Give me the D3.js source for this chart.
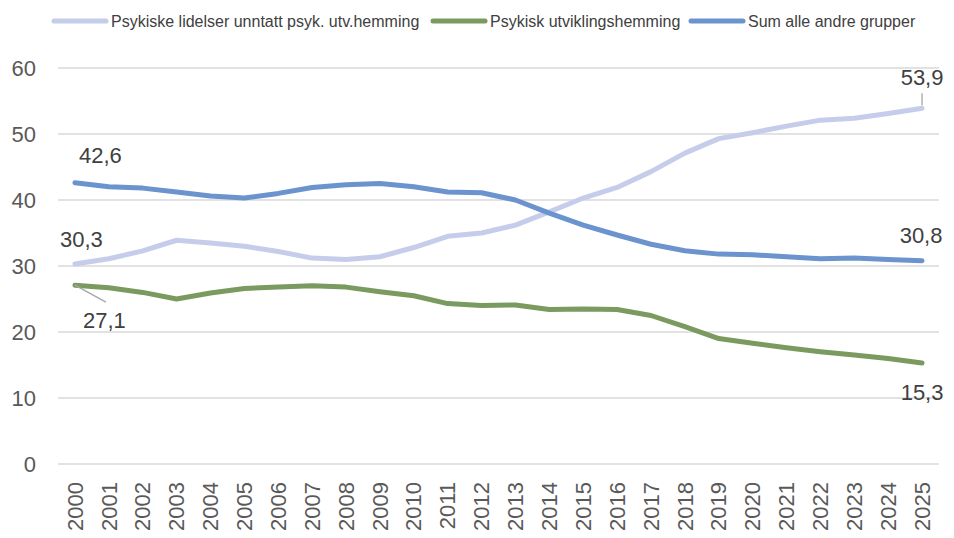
<!DOCTYPE html>
<html lang="no">
<meta charset="utf-8">
<title>Utvikling etter diagnosegruppe</title>
<style>
  body { margin: 0; background: #fff; }
  svg { font-family: "Liberation Sans", Arial, sans-serif; display: block; }
  .grid line { stroke: #d9d9d9; stroke-width: 1.3; }
  .ytick text, .xtick text { fill: #595959; font-size: 22px; }
  .lbl { fill: #404040; font-size: 22px; }
  .legend text { fill: #404040; font-size: 16px; }
</style>
<body>
<script src="https://d3js.org/d3.v7.min.js"></script>
<script>
  // years along the x axis
  var years = ["2000","2001","2002","2003","2004","2005","2006","2007","2008","2009",
    "2010","2011","2012","2013","2014","2015","2016","2017","2018","2019",
    "2020","2021","2022","2023","2024","2025"];

  // series values
  var psykiske = [30.3,31.1,32.3,33.9,33.5,33.0,32.2,31.2,31.0,31.4,
    32.8,34.5,35.0,36.2,38.2,40.3,41.9,44.3,47.1,49.3,
    50.2,51.2,52.1,52.4,53.1,53.9];
  var utvikling = [27.1,26.7,26.0,25.0,25.9,26.6,26.8,27.0,26.8,26.1,
    25.5,24.3,24.0,24.1,23.4,23.5,23.4,22.5,20.8,19.0,
    18.3,17.6,17.0,16.5,16.0,15.3];
  var andre = [42.6,42.0,41.8,41.2,40.6,40.3,41.0,41.9,42.3,42.5,
    42.0,41.2,41.1,40.0,38.0,36.2,34.7,33.3,32.3,31.8,
    31.7,31.4,31.1,31.2,31.0,30.8];

  var yTicks = [0, 10, 20, 30, 40, 50, 60];

  var series = [
    { name: "Psykiske lidelser unntatt psyk. utv.hemming", values: psykiske, color: "#c5cdea" },
    { name: "Psykisk utviklingshemming", values: utvikling, color: "#7a9a5f" },
    { name: "Sum alle andre grupper", values: andre, color: "#6b93cd" }
  ];

  var width = 954, height = 538;
  var margin = { top: 68, right: 15, bottom: 74, left: 58 };

  var svg = d3.select("body").append("svg")
    .attr("width", width)
    .attr("height", height);

  var x = d3.scaleBand().domain(years).range([margin.left, width - margin.right]);
  var y = d3.scaleLinear().domain([0, 60]).range([height - margin.bottom, margin.top]);
  var cx = function(yr) { return x(yr) + x.bandwidth() / 2; };

  // gridlines
  svg.append("g").attr("class", "grid")
    .selectAll("line").data(yTicks).join("line")
    .attr("x1", margin.left).attr("x2", width - margin.right)
    .attr("y1", function(d) { return y(d); }).attr("y2", function(d) { return y(d); });

  // y tick labels
  svg.append("g").attr("class", "ytick")
    .selectAll("text").data(yTicks).join("text")
    .attr("x", 36).attr("y", function(d) { return y(d); })
    .attr("dy", "0.35em").attr("text-anchor", "end")
    .text(function(d) { return d; });

  // x tick labels, rotated
  svg.append("g").attr("class", "xtick")
    .selectAll("text").data(years).join("text")
    .attr("transform", function(d) { return "translate(" + cx(d) + "," + 482 + ") rotate(-90)"; })
    .attr("dy", "0.35em").attr("text-anchor", "end")
    .text(function(d) { return d; });

  // lines
  var line = d3.line()
    .x(function(d, i) { return cx(years[i]); })
    .y(function(d) { return y(d); });

  svg.append("g").selectAll("path").data(series).join("path")
    .attr("fill", "none")
    .attr("stroke", function(d) { return d.color; })
    .attr("stroke-width", 5)
    .attr("stroke-linecap", "round")
    .attr("stroke-linejoin", "round")
    .attr("d", function(d) { return line(d.values); });

  // data labels
  var fmt = function(v) { return d3.format(".1f")(v).replace(".", ","); };
  var first = years[0], last = years[years.length - 1];
  var labels = [
    { yr: first, v: andre[0], dx: 4, dy: -28, anchor: "start" },
    { yr: first, v: psykiske[0], dx: -15, dy: -25, anchor: "start" },
    { yr: first, v: utvikling[0], dx: 8, dy: 35, anchor: "start", lead: [0, 0, 31, 17] },
    { yr: last, v: psykiske[25], dx: 0, dy: -31, anchor: "middle", lead: [0, -3, 0, -15] },
    { yr: last, v: andre[25], dx: -1, dy: -25, anchor: "middle" },
    { yr: last, v: utvikling[25], dx: 0, dy: 29, anchor: "middle" }
  ];

  labels.forEach(function(l) {
    var px = cx(l.yr), py = y(l.v);
    if (l.lead) {
      svg.append("line")
        .attr("x1", px + l.lead[0]).attr("y1", py + l.lead[1])
        .attr("x2", px + l.lead[2]).attr("y2", py + l.lead[3])
        .attr("stroke", "#a6a6a6").attr("stroke-width", 1.3);
    }
    svg.append("text").attr("class", "lbl")
      .attr("x", px + l.dx).attr("y", py + l.dy)
      .attr("dy", "0.35em").attr("text-anchor", l.anchor)
      .text(fmt(l.v));
  });

  // legend
  var legendX = [52, 431, 689];
  var lg = svg.append("g").attr("class", "legend")
    .selectAll("g").data(series).join("g")
    .attr("transform", function(d, i) { return "translate(" + legendX[i] + ",21)"; });
  lg.append("line").attr("x1", 2).attr("x2", 54)
    .attr("stroke", function(d) { return d.color; })
    .attr("stroke-width", 5).attr("stroke-linecap", "round");
  lg.append("text").attr("x", 59).attr("dy", "0.35em")
    .text(function(d) { return d.name; });
</script>
</body>
</html>
